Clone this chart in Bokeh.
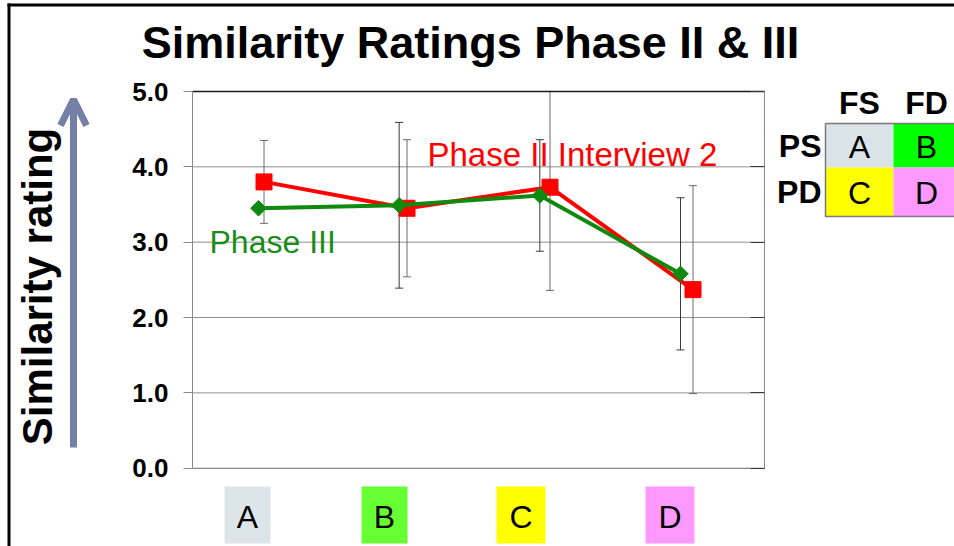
import numpy as np
from bokeh.plotting import figure
from bokeh.models import (Range1d, FixedTicker, LinearAxis, Label, BoxAnnotation,
                          Arrow, OpenHead, ColumnDataSource, PrintfTickFormatter)
from bokeh.embed import file_html
from bokeh.resources import INLINE

# ---------------- data ----------------
categories = ["A", "B", "C", "D"]
phase2_mean = [3.80, 3.45, 3.73, 2.37]      # Phase II Interview 2 (red)
phase2_err = [0.55, 0.91, 1.37, 1.38]
phase3_mean = [3.45, 3.49, 3.62, 2.58]      # Phase III (green)
phase3_err = [np.nan, 1.10, 0.74, 1.01]
y_ticks = [0, 1, 2, 3, 4, 5]
table_cols = ["FS", "FD"]
table_rows = ["PS", "PD"]
table_cells = [["A", "B"], ["C", "D"]]

FONT = "Liberation Sans"
RED = "#ff0000"
GREEN = "#0f8a0f"

W, H = 954, 546
# plot-area placement in canvas pixels
PX_L, PX_R, PX_T, PX_B = 192, 764, 91, 467.7
# Phase III series is drawn on its own (secondary) horizontal scale
P3_FIRST, P3_LAST = 258, 680

ncat = len(categories)
ymin, ymax = y_ticks[0], y_ticks[-1]
xppu = (PX_R - PX_L) / ncat
yppu = (PX_B - PX_T) / (ymax - ymin)
x_range = Range1d(-PX_L / xppu, ncat + (W - PX_R) / xppu)
y_range = Range1d(ymin - (H - PX_B) / yppu, ymax + PX_T / yppu)
g_ppu = (P3_LAST - P3_FIRST) / (ncat - 1)
g_start = 0.5 - P3_FIRST / g_ppu
p3_range = Range1d(g_start, g_start + W / g_ppu)

p = figure(width=W, height=H, x_range=x_range, y_range=y_range,
           x_axis_location=None, y_axis_location=None,
           output_backend="svg", toolbar_location=None,
           min_border=0, min_border_left=0, min_border_right=0, min_border_top=0, min_border_bottom=0,
           background_fill_color="white", border_fill_color="white", outline_line_color=None)
p.extra_x_ranges = {"p3": p3_range}
for g in p.grid:
    g.visible = False

# horizontal gridlines across the plot area
p.segment(x0=[0] * len(y_ticks), x1=[ncat] * len(y_ticks), y0=y_ticks, y1=y_ticks,
          line_color="#8f8f8f", line_width=1)

# axes drawn at fixed data locations
ly = LinearAxis(fixed_location=0, bounds=(ymin, ymax), ticker=FixedTicker(ticks=y_ticks),
                formatter=PrintfTickFormatter(format="%.1f"),
                axis_line_color="#8a8a8a", major_tick_line_color="#8a8a8a",
                major_tick_out=9, major_tick_in=0, minor_tick_line_color=None,
                major_label_standoff=15, major_label_text_font=FONT,
                major_label_text_font_style="bold", major_label_text_font_size="26px",
                major_label_text_color="black")
p.add_layout(ly, "left")

ry = LinearAxis(fixed_location=ncat, bounds=(ymin, ymax), ticker=FixedTicker(ticks=y_ticks),
                major_label_overrides={t: "" for t in y_ticks},
                axis_line_color="#8a8a8a", major_tick_line_color="#3a3a3a",
                major_tick_in=14, major_tick_out=0, minor_tick_line_color=None,
                major_label_text_font_size="1px")
p.add_layout(ry, "right")

bx = LinearAxis(fixed_location=ymin, bounds=(0, ncat), ticker=FixedTicker(ticks=[]),
                axis_line_color="#8a8a8a", major_tick_line_color=None, minor_tick_line_color=None)
p.add_layout(bx, "below")

tx = LinearAxis(fixed_location=ymax, bounds=(0, ncat), ticker=FixedTicker(ticks=[]),
                axis_line_color="#1a1a1a", axis_line_width=1.5,
                major_tick_line_color=None, minor_tick_line_color=None)
p.add_layout(tx, "above")

# ---------------- series ----------------
x = np.arange(ncat) + 0.5
m2 = np.array(phase2_mean); e2 = np.array(phase2_err)
m3 = np.array(phase3_mean); e3 = np.array(phase3_err)

s2 = ColumnDataSource(dict(x=x, y=m2, lo=np.maximum(m2 - e2, ymin), hi=np.minimum(m2 + e2, ymax)))
s3 = ColumnDataSource(dict(x=x, y=m3, lo=np.maximum(m3 - e3, ymin), hi=np.minimum(m3 + e3, ymax)))

for src, col, rng in ((s2, "#6a6a6a", "default"), (s3, "#3a3a3a", "p3")):
    p.segment(x0="x", y0="lo", x1="x", y1="hi", source=src, line_color=col, line_width=1,
              x_range_name=rng)
    p.scatter("x", "lo", source=src, marker="dash", size=8, line_color=col, line_width=1,
              x_range_name=rng)
    p.scatter("x", "hi", source=src, marker="dash", size=8, line_color=col, line_width=1,
              x_range_name=rng)

p.line("x", "y", source=s2, line_color=RED, line_width=4)
p.scatter("x", "y", source=s2, marker="square", size=16, fill_color=RED, line_color=RED)
p.line("x", "y", source=s3, line_color=GREEN, line_width=4, x_range_name="p3")
p.scatter("x", "y", source=s3, marker="square", angle=np.pi / 4, size=11, fill_color=GREEN,
          line_color=GREEN, x_range_name="p3")


# ---------------- annotations (canvas pixel positions) ----------------
def sx(X):
    return X


def sy(Y):
    return H - Y


def label(text, X, Y, size, color="black", bold=False, align="center", baseline="middle", angle=0.0):
    p.add_layout(Label(x=sx(X), y=sy(Y), x_units="screen", y_units="screen", text=text,
                       text_font=FONT, text_font_size=f"{size}px",
                       text_font_style="bold" if bold else "normal", text_color=color,
                       text_align=align, text_baseline=baseline, angle=angle))


def box(X0, X1, Y0, Y1, fill, line=None, lw=1):
    p.add_layout(BoxAnnotation(left=sx(X0), right=sx(X1), top=sy(Y0), bottom=sy(Y1),
                               left_units="screen", right_units="screen",
                               top_units="screen", bottom_units="screen",
                               fill_color=fill, fill_alpha=1 if fill else 0,
                               line_color=line, line_width=lw, line_alpha=1))


# slide frame lines
box(7, 10, 3, H, "black")
box(7, W, 3, 6, "black")

# title
label("Similarity Ratings Phase II & III", 470, 42, 45, bold=True)

# y label + arrow
label("Similarity rating", 36.5, 286, 42, bold=True, angle=np.pi / 2)
ARROW = "#7480a6"
p.add_layout(Arrow(x_start=sx(73), y_start=sy(447), x_end=sx(73), y_end=sy(99),
                   start_units="screen", end_units="screen",
                   line_color=ARROW, line_width=7,
                   end=OpenHead(size=26, line_color=ARROW, line_width=7)))

# series labels
label("Phase II  Interview 2", 427, 154, 33, color=RED, align="left")
label("Phase III", 209, 241.5, 32, color="#1a8c1a", align="left")

# category boxes below the axis
cat_fill = {"A": "#dce6ea", "B": "#66ff33", "C": "#ffff00", "D": "#ff99ff"}
cat_box = {"A": (224, 270), "B": (361, 407), "C": (496, 545), "D": (645, 694)}
for c in categories:
    x0, x1 = cat_box[c]
    box(x0, x1, 486, 543, cat_fill[c])
    label(c, (x0 + x1) / 2, 516, 32)

# design table
cell_fill = {"A": "#dae3e8", "B": "#00ff00", "C": "#ffff00", "D": "#ff99ff"}
col_x = [(825, 893), (893, 962)]
row_y = [(123, 167), (167, 216)]
for i, r in enumerate(table_rows):
    for j, cname in enumerate(table_cols):
        t = table_cells[i][j]
        (x0, x1), (y0, y1) = col_x[j], row_y[i]
        box(x0, x1, y0, y1, cell_fill[t])
        label(t, (x0 + 893) / 2 if j == 0 else 926, (y0 + y1) / 2 + 1, 32)
box(825, 962, 123, 216, None, line="#7a7a7a", lw=1.5)
for j, cname in enumerate(table_cols):
    label(cname, 859 if j == 0 else 926, 102, 32, bold=True)
for i, r in enumerate(table_rows):
    label(r, 821, sum(row_y[i]) / 2, 32, bold=True, align="right")

open("out.html", "w").write(file_html(p, INLINE))
